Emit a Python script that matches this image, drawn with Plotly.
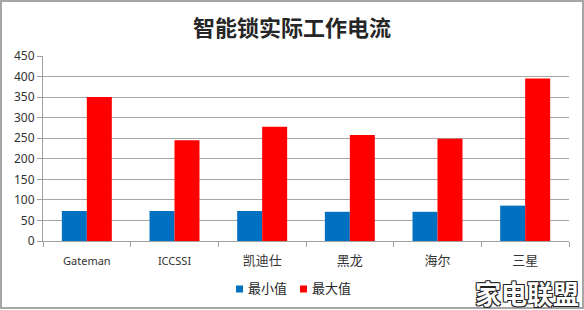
import plotly.graph_objects as go

categories = ["Gateman", "ICCSSI", "凯迪仕", "黑龙", "海尔", "三星"]
min_values = [73, 73, 73, 71, 71, 86]
max_values = [350, 245, 278, 258, 249, 395]
series_names = ["最小值", "最大值"]
series_colors = ["#0070C0", "#FF0000"]
y_ticks = [0, 50, 100, 150, 200, 250, 300, 350, 400, 450]

FONT = "Noto Sans, Noto Sans CJK SC, sans-serif"
W, H = 584, 310
L, R, T, B = 43, 15, 56, 69
pw, ph = W - L - R, H - T - B


def px_x(x):
    return (x - L) / pw


def px_y(y):
    return (T + ph - y) / ph


tick_text = [c if c.isascii() else '<span style="font-size:13px">' + c + '</span>'
             for c in categories]

fig = go.Figure()
fig.add_trace(go.Bar(x=categories, y=min_values, name=series_names[0],
                     marker=dict(color=series_colors[0], line=dict(width=0))))
fig.add_trace(go.Bar(x=categories, y=max_values, name=series_names[1],
                     marker=dict(color=series_colors[1], line=dict(width=0))))

fig.update_layout(
    width=W, height=H,
    margin=dict(l=L, r=R, t=T, b=B, autoexpand=False),
    paper_bgcolor="white", plot_bgcolor="white",
    barmode="group", bargap=0.43, bargroupgap=0,
    title=dict(text="<b>智能锁实际工作电流</b>", x=0.5, xref="container", xanchor="center",
               y=1 - 28 / H, yanchor="middle",
               font=dict(family="Noto Sans CJK SC", size=22, color="#262626")),
    font=dict(family=FONT, size=11, color="#333333"),
    showlegend=False,
    xaxis=dict(type="category", showgrid=False, showline=True, linecolor="#A0A0A0",
               linewidth=1, ticks="outside", tickson="boundaries", ticklen=5,
               tickcolor="#A0A0A0", ticklabelstandoff=10,
               tickvals=categories, ticktext=tick_text,
               tickfont=dict(size=11, color="#333333")),
    yaxis=dict(range=[0, 450], tickvals=y_ticks, showgrid=True, gridcolor="#A6A6A6",
               gridwidth=1, showline=True, linecolor="#A0A0A0", ticks="outside",
               ticklen=5, tickcolor="#A0A0A0", zeroline=False,
               tickfont=dict(size=12, color="#333333")),
)

# legend (drawn manually for tight Excel-like spacing)
legend_sq_x = [236, 300]
for name, color, sx in zip(series_names, series_colors, legend_sq_x):
    fig.add_shape(type="rect", xref="paper", yref="paper",
                  x0=px_x(sx), x1=px_x(sx + 7), y0=px_y(292.5), y1=px_y(285.5),
                  line=dict(width=0), fillcolor=color)
    fig.add_annotation(text=name, xref="paper", yref="paper", x=px_x(sx + 10),
                       xanchor="left", y=px_y(287.5), yanchor="middle", showarrow=False,
                       font=dict(family="Noto Sans CJK SC", size=13, color="#262626"))

# outer frame of the picture
fig.add_shape(type="rect", xref="paper", yref="paper",
              x0=px_x(1), x1=px_x(W - 1), y0=px_y(H - 2), y1=px_y(1),
              line=dict(color="#A6A6A6", width=2), fillcolor="rgba(0,0,0,0)")

# watermark
fig.add_annotation(text="家电联盟", xref="paper", yref="paper",
                   x=px_x(W - 3), xanchor="right",
                   y=px_y(292), yanchor="middle", showarrow=False,
                   font=dict(family="Noto Sans CJK SC", size=26, color="white", weight=700,
                             shadow="1px 1px 0 #222, -1px -1px 0 #222, 1px -1px 0 #222, -1px 1px 0 #222"))

fig.write_html("out.html")
